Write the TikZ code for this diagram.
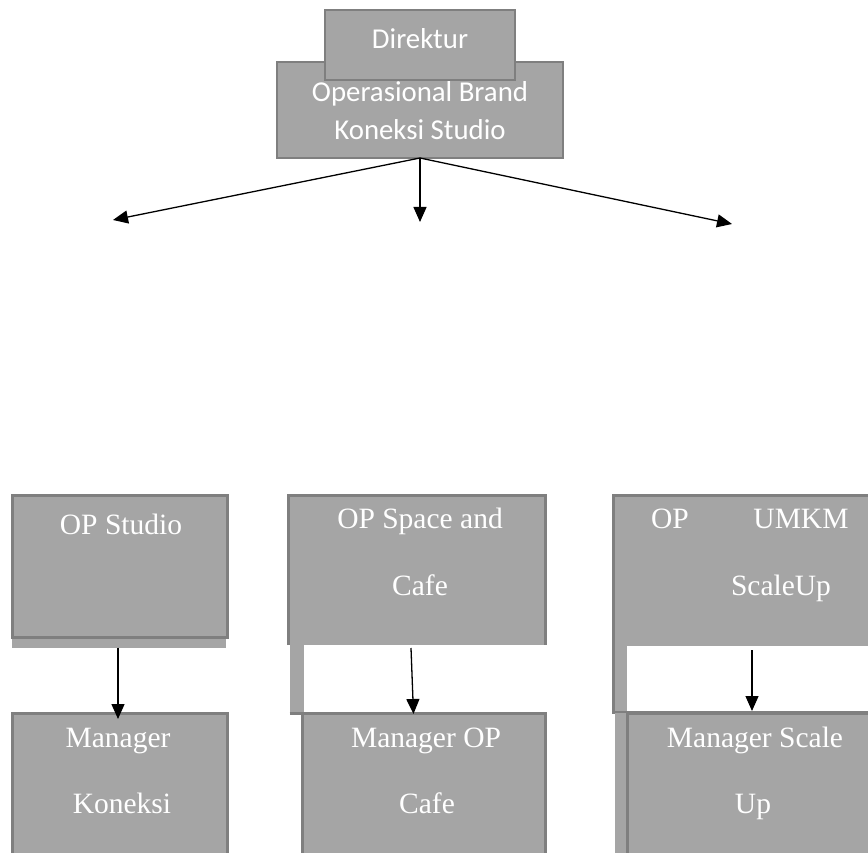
\documentclass[tikz,border=0pt]{standalone}
\usepackage{fontspec}
\setmainfont{Liberation Serif}
\newfontfamily\carlitofont{Carlito}
\usetikzlibrary{arrows.meta}
\definecolor{boxfill}{HTML}{A5A5A5}
\definecolor{boxline}{HTML}{7F7F7F}
\tikzset{
  boxshape/.style={rectangle, inner sep=0pt, outer sep=0pt, anchor=north west, fill=boxfill},
  topbox/.style={boxshape, draw=boxline, line width=2pt},
  lowbox/.style={boxshape, draw=boxline, line width=3pt},
  plainfill/.style={boxshape},
  gapfill/.style={rectangle, inner sep=0pt, outer sep=0pt, anchor=north west, fill=white},
  edgeline/.style={draw=boxline, line width=3pt},
  toptext/.style={anchor=base, inner sep=0pt, text=white, font=\carlitofont\fontsize{28.8}{34}\selectfont},
  lowtext/.style={anchor=base, inner sep=0pt, text=white, font=\fontsize{29.5}{34}\selectfont},
  arr/.style={draw=black, line width=1.3pt, -{Triangle[length=15pt,width=13pt]}}
}
\begin{document}
\begin{tikzpicture}[x=1pt,y=-1pt]
\useasboundingbox (0,0) rectangle (868,853);
\clip (0,0) rectangle (868,853);

% top boxes
\node[topbox, minimum width=286pt, minimum height=96pt] (brand) at (277,62) {};
\node[topbox, minimum width=190pt, minimum height=70pt] (dir) at (325,10) {};
\node[toptext] (tdir) at (420,49) {Direktur};
\node[toptext] (tbrand1) at (420,102) {Operasional Brand};
\node[toptext] (tbrand2) at (420,140) {Koneksi Studio};

% free ends of the top arrows
\coordinate (endL) at (113,220);
\coordinate (endM) at (420,222);
\coordinate (endR) at (732,224);
\draw[arr] (brand.south) -- (endL);
\draw[arr] (brand.south) -- (endM);
\draw[arr] (brand.south) -- (endR);

% column 1
\node[lowbox, minimum width=215pt, minimum height=142pt] (studio) at (12,495) {};
\node[plainfill, minimum width=214pt, minimum height=9pt] (studioshadow) at (12,638.5) {};
\node[lowbox, minimum width=215pt, minimum height=170pt] (mkon) at (12,713) {};
\node[lowtext] (tstudio) at (121,534) {OP Studio};
\node[lowtext] (tmkon1) at (118,747) {Manager};
\node[lowtext] (tmkon2) at (122,813) {Koneksi};
\draw[arr] ([xshift=-1pt]studioshadow.south) -- ([xshift=-1.5pt,yshift=-6pt]mkon.north);

% column 2
\node[plainfill, minimum width=257pt, minimum height=150pt] (space) at (288,495) {};
\draw[edgeline] (space.south west) |- (space.north east) -- (space.south east);
\node[plainfill, minimum width=14pt, minimum height=68pt] (spacestrip) at (289.5,645) {};
\node[lowbox, minimum width=243pt, minimum height=170pt] (mcafe) at (302,713) {};
\draw[edgeline] (spacestrip.south west) -- (mcafe.north west);
\node[lowtext] (tspace1) at (420,528) {OP Space and};
\node[lowtext] (tspace2) at (420,595) {Cafe};
\node[lowtext] (tmcafe1) at (426,747) {Manager OP};
\node[lowtext] (tmcafe2) at (427,813) {Cafe};
\draw[arr] ([xshift=-5.5pt,yshift=-3pt]space.south) -- ([xshift=-10pt,yshift=-1pt]mcafe.north);

% column 3
\node[plainfill, minimum width=270pt, minimum height=217pt] (umkm) at (613,495) {};
\node[gapfill, minimum width=260pt, minimum height=65pt] (umkmgap) at (627,646) {};
\draw[edgeline] (umkm.north east) -- (umkm.north west) -- (umkm.south west) -- (umkm.south east);
\node[plainfill, minimum width=13pt, minimum height=150pt] (umkmstrip) at (614.5,713) {};
\node[lowbox, minimum width=260pt, minimum height=170pt] (mscale) at (627,713) {};
\node[lowtext] (tumkm1) at (670,528) {OP};
\node[lowtext] (tumkm2) at (801,528) {UMKM};
\node[lowtext] (tumkm3) at (781,595) {ScaleUp};
\node[lowtext] (tmscale1) at (755,747) {Manager Scale};
\node[lowtext] (tmscale2) at (753,813) {Up};
\coordinate (umkmarrowtop) at (752,650);
\draw[arr] (umkmarrowtop) -- (umkmarrowtop |- umkmgap.south);
\end{tikzpicture}
\end{document}
